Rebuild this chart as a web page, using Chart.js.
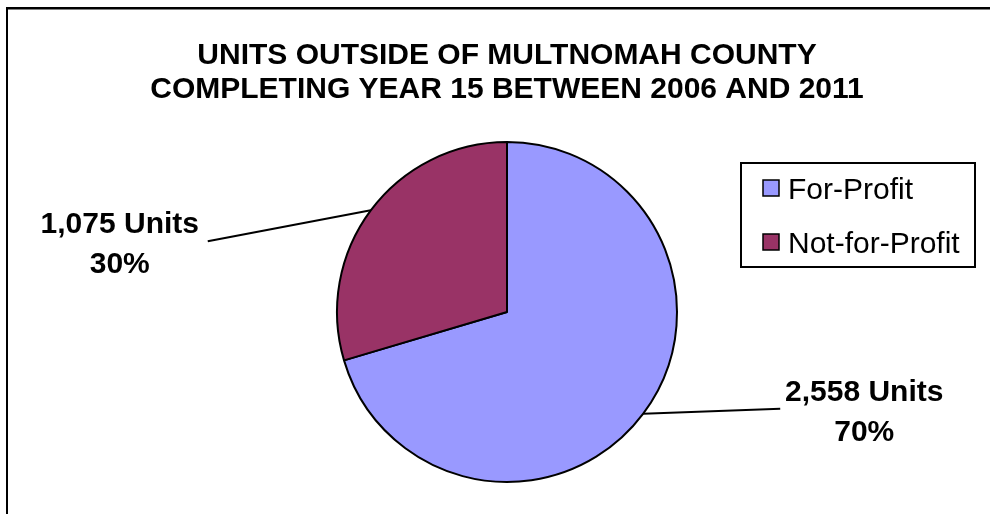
<!DOCTYPE html>
<html>
<head>
<meta charset="utf-8">
<script src="https://cdn.jsdelivr.net/npm/chart.js@4/dist/chart.umd.min.js"></script>
<style>
  html, body { margin: 0; padding: 0; background: #fff; overflow: hidden; }
  canvas { display: block; }
</style>
</head>
<body>
<canvas id="pie-chart" width="990" height="514"></canvas>
<script>
    // data
    const categories = ['For-Profit', 'Not-for-Profit'];
    const units = [2558, 1075];
    const sliceColors = ['#9999ff', '#993366'];
    const titleLines = ['UNITS OUTSIDE OF MULTNOMAH COUNTY', 'COMPLETING YEAR 15 BETWEEN 2006 AND 2011'];

    // where each data label sits, relative to the middle of its slice edge
    const labelPlacement = [
        { textX: 221, textY: -13, lineX: 137, lineY: -5 },
        { textX: -251, textY: 23, lineX: -163, lineY: 31 }
    ];

    const fontFamily = '"Liberation Sans", Arial, Helvetica, sans-serif';
    const pieCanvas = document.getElementById('pie-chart');

    // page frame (only top and left edges show)
    const framePlugin = {
        id: 'frame',
        beforeDraw(chart) {
            const ctx = chart.ctx;
            ctx.save();
            ctx.fillStyle = '#000';
            ctx.fillRect(6, 7, chart.width - 6, 2.5);
            ctx.fillRect(6, 7, 2, chart.height - 7);
            ctx.restore();
        }
    };

    // labels with leader lines
    const sliceLabels = {
        id: 'sliceLabels',
        afterDatasetsDraw(chart) {
            const ctx = chart.ctx;
            const meta = chart.getDatasetMeta(0);
            const values = chart.data.datasets[0].data;
            const total = values.reduce((a, b) => a + b, 0);
            ctx.save();
            meta.data.forEach((arc, i) => {
                const p = arc.getProps(['x', 'y', 'startAngle', 'endAngle', 'outerRadius'], true);
                const mid = (p.startAngle + p.endAngle) / 2;
                const ex = p.x + Math.cos(mid) * p.outerRadius;
                const ey = p.y + Math.sin(mid) * p.outerRadius;
                const pl = labelPlacement[i];

                ctx.strokeStyle = '#000';
                ctx.lineWidth = 2;
                ctx.beginPath();
                ctx.moveTo(ex, ey);
                ctx.lineTo(ex + pl.lineX, ey + pl.lineY);
                ctx.stroke();

                const pct = Math.round(values[i] / total * 100) + '%';
                ctx.fillStyle = '#000';
                ctx.font = 'bold 30px ' + fontFamily;
                ctx.textAlign = 'center';
                ctx.textBaseline = 'alphabetic';
                ctx.fillText(values[i].toLocaleString('en-US') + ' Units', ex + pl.textX, ey + pl.textY);
                ctx.fillText(pct, ex + pl.textX, ey + pl.textY + 40);
            });
            ctx.restore();
        }
    };

    // boxed legend on the right
    const boxLegend = {
        id: 'boxLegend',
        afterDraw(chart) {
            const ctx = chart.ctx;
            const ds = chart.data.datasets[0];
            ctx.save();
            ctx.strokeStyle = '#000';
            ctx.lineWidth = 2;
            ctx.strokeRect(741, 163, 234, 104);
            ctx.font = '30px ' + fontFamily;
            ctx.textAlign = 'left';
            ctx.textBaseline = 'alphabetic';
            chart.data.labels.forEach((label, i) => {
                const cy = 188 + i * 54;
                ctx.fillStyle = ds.backgroundColor[i];
                ctx.fillRect(763, cy - 8, 16, 16);
                ctx.lineWidth = 1.5;
                ctx.strokeRect(763, cy - 8, 16, 16);
                ctx.fillStyle = '#000';
                ctx.fillText(label, 788, cy + 11);
            });
            ctx.restore();
        }
    };

    let pieChart = new Chart(pieCanvas, {
        type: 'pie',
        data: {
            labels: categories,
            datasets: [{
                data: units,
                backgroundColor: sliceColors,
                borderColor: '#000',
                borderWidth: 2
            }]
        },
        options: {
            responsive: false,
            maintainAspectRatio: false,
            animation: false,
            events: [],
            layout: {
                padding: { left: 24, right: 0, top: 0, bottom: 31 }
            },
            plugins: {
                legend: { display: false },
                tooltip: { enabled: false },
                title: {
                    display: true,
                    text: titleLines,
                    color: '#000',
                    font: { family: fontFamily, size: 30, weight: 'bold', lineHeight: 34 / 30 },
                    padding: { top: 39, bottom: 34 }
                }
            }
        },
        plugins: [framePlugin, sliceLabels, boxLegend]
    });
</script>
</body>
</html>
